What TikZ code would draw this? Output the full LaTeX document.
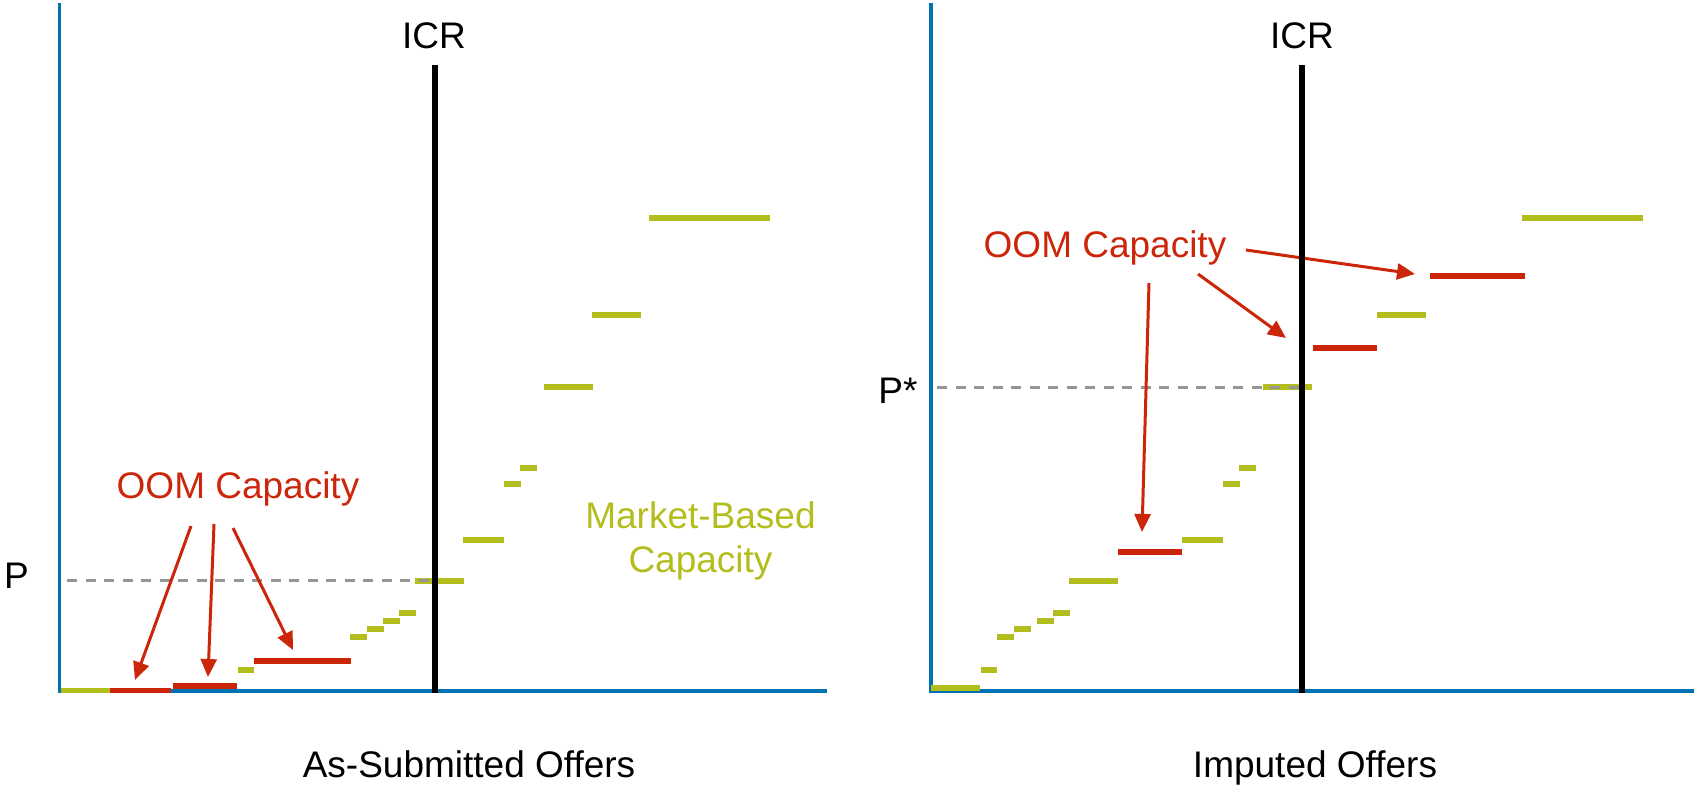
\documentclass[tikz,border=0pt]{standalone}
\usepackage{fontspec}
\setmainfont{Liberation Sans}
\usetikzlibrary{arrows.meta}
\definecolor{axisblue}{RGB}{0,114,178}
\definecolor{offergreen}{RGB}{180,189,30}
\definecolor{oomred}{RGB}{204,38,10}
\definecolor{dashgray}{RGB}{150,150,150}
\begin{document}
\begin{tikzpicture}[x=1pt,y=-1pt,
axisline/.style={draw=axisblue,line width=3.3pt},
icrline/.style={draw=black,line width=6pt},
offer/.style={draw=offergreen,line width=5.5pt},
oomoffer/.style={draw=oomred,line width=5.5pt},
priceline/.style={draw=dashgray,line width=3pt,dash pattern=on 10pt off 8.5pt},
oomarrow/.style={draw=oomred,line width=3pt,-{Triangle[length=18pt,width=16pt]}},
txt/.style={inner sep=0pt,anchor=base,font=\fontsize{37}{44}\selectfont}]
\useasboundingbox (0,0) rectangle (1696,787);

% left panel: as-submitted offers
\draw[axisline] (59.5,3) -- (59.5,691) -- (827,691);
\draw[offer] (61,690.5) -- (110,690.5);
\draw[oomoffer] (110,690.5) -- (171,690.5);
\draw[oomoffer] (173,686) -- (237,686);
\draw[offer] (238,670) -- (254,670);
\draw[oomoffer] (254,661) -- (351,661);
\draw[offer] (350,637) -- (367,637);
\draw[offer] (367,629) -- (384,629);
\draw[offer] (383,621) -- (400,621);
\draw[offer] (399,613) -- (416,613);
\draw[offer] (415,581) -- (464,581);
\draw[offer] (463,540) -- (504,540);
\draw[offer] (504,484) -- (521,484);
\draw[offer] (520,468) -- (537,468);
\draw[offer] (544,387) -- (593,387);
\draw[offer] (592,315) -- (641,315);
\draw[offer] (649,218) -- (770,218);
\draw[priceline] (67,580) -- (434,580);

\draw (238,498) node[txt,text=oomred] (oomL) {OOM Capacity};
\coordinate (fromL1) at (191,526);
\coordinate (fromL2) at (214,524);
\coordinate (fromL3) at (233,528);
\coordinate (toL1) at (135,680);
\coordinate (toL2) at (208,677);
\coordinate (toL3) at (293,650);
\draw[oomarrow] (fromL1) -- (toL1);
\draw[oomarrow] (fromL2) -- (toL2);
\draw[oomarrow] (fromL3) -- (toL3);

\draw[icrline] (434.5,65) -- (434.5,693);
\draw (434,48) node[txt] (icrL) {ICR};
\draw (16.5,588) node[txt] (pL) {P};
\draw (700.5,540.5) node[txt,anchor=center,align=center,text=offergreen] (mbc) {Market-Based\\Capacity};
\draw (469,777) node[txt] (subL) {As-Submitted Offers};

% right panel: imputed offers
\draw[axisline] (931,3) -- (931,691) -- (1694,691);
\draw[offer] (931,688) -- (980,688);
\draw[offer] (981,670) -- (997,670);
\draw[offer] (997,637) -- (1014,637);
\draw[offer] (1014,629) -- (1031,629);
\draw[offer] (1037,621) -- (1054,621);
\draw[offer] (1053,613) -- (1070,613);
\draw[offer] (1069,581) -- (1118,581);
\draw[oomoffer] (1118,552) -- (1182,552);
\draw[offer] (1182,540) -- (1223,540);
\draw[offer] (1223,484) -- (1240,484);
\draw[offer] (1239,468) -- (1256,468);
\draw[offer] (1263,387) -- (1312,387);
\draw[oomoffer] (1313,348) -- (1377,348);
\draw[offer] (1377,315) -- (1426,315);
\draw[oomoffer] (1430,276) -- (1525,276);
\draw[offer] (1522,218) -- (1643,218);
\draw[priceline] (937,387) -- (1302,387);

\draw (1105,257) node[txt,text=oomred] (oomR) {OOM Capacity};
\coordinate (fromR1) at (1149,283);
\coordinate (fromR2) at (1198,274);
\coordinate (fromR3) at (1246,250);
\coordinate (toR1) at (1142,532);
\coordinate (toR2) at (1286,338);
\coordinate (toR3) at (1415,274);
\draw[oomarrow] (fromR1) -- (toR1);
\draw[oomarrow] (fromR2) -- (toR2);
\draw[oomarrow] (fromR3) -- (toR3);

\draw[icrline] (1302,65) -- (1302,693);
\draw (1302,48) node[txt] (icrR) {ICR};
\draw (898,403) node[txt] (pR) {P*};
\draw (1315,777) node[txt] (impR) {Imputed Offers};

\end{tikzpicture}
\end{document}
